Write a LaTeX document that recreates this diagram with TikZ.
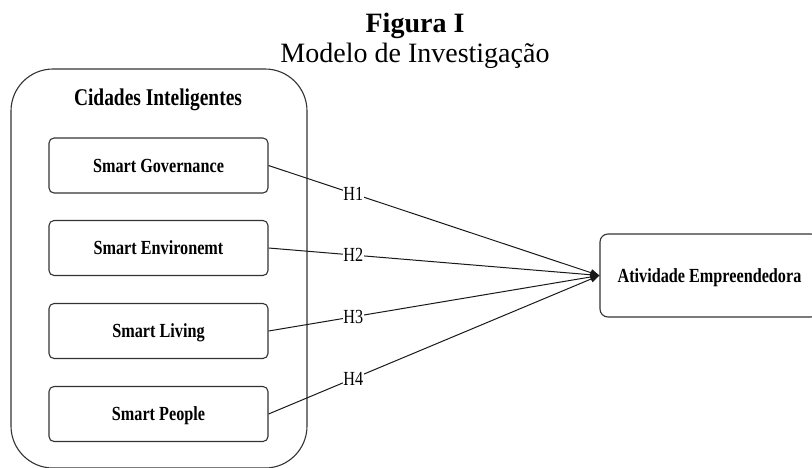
\documentclass[tikz,border=0pt]{standalone}
\usepackage{fontspec}
\setmainfont{Liberation Serif}
\newfontfamily\cond[FakeStretch=0.81]{Liberation Serif}
\usetikzlibrary{arrows.meta}
\begin{document}
\begin{tikzpicture}[x=1pt,y=-1pt,
  frame/.style={draw=black!80, line width=1.1pt},
  innerbox/.style={frame, rounded corners=5pt, minimum width=219pt, minimum height=55pt,
    font=\cond\bfseries\fontsize{20}{20}\selectfont, text height=13.2pt, text depth=0pt, inner sep=0pt},
  outbox/.style={frame, rounded corners=8pt, minimum width=219pt, minimum height=83pt,
    font=\cond\bfseries\fontsize{20}{20}\selectfont, text height=13.2pt, text depth=-8pt, inner sep=0pt},
  conn/.style={draw=black!90, line width=1pt, -{Triangle[length=9pt,width=7pt]}},
  hlab/.style={fill=white, inner sep=0.5pt, font=\cond\fontsize{20}{20}\selectfont,
    text height=13.2pt, text depth=0pt}
]
\useasboundingbox (0,0) rectangle (812,467);
\clip (0,0) rectangle (812,467);

\node[anchor=base, font=\bfseries\fontsize{28}{28}\selectfont] (t1) at (415,32) {Figura I};
\node[anchor=base, font=\fontsize{28}{28}\selectfont] (t2) at (415,62) {Modelo de Investigação};

\node[frame, rounded corners=42pt, minimum width=296pt, minimum height=399pt, inner sep=0pt] (outer) at (159,268.5) {};
\node[anchor=base, font=\cond\bfseries\fontsize{24}{24}\selectfont] (ci) at (158,105.5) {Cidades Inteligentes};

\node[innerbox] (g) at (158.5,165.5) {Smart Governance};
\node[innerbox] (e) at (158.5,248) {Smart Environemt};
\node[innerbox] (l) at (158.5,331) {Smart Living};
\node[innerbox] (p) at (158.5,414) {Smart People};

\node[outbox] (ae) at (709.5,275.5) {Atividade Empreendedora};

\draw[conn] (g.east) -- node[hlab, pos=0.256] (h1) {H1} (ae.west);
\draw[conn] (e.east) -- node[hlab, pos=0.256] (h2) {H2} (ae.west);
\draw[conn] (l.east) -- node[hlab, pos=0.256] (h3) {H3} (ae.west);
\draw[conn] (p.east) -- node[hlab, pos=0.256] (h4) {H4} (ae.west);
\end{tikzpicture}
\end{document}
